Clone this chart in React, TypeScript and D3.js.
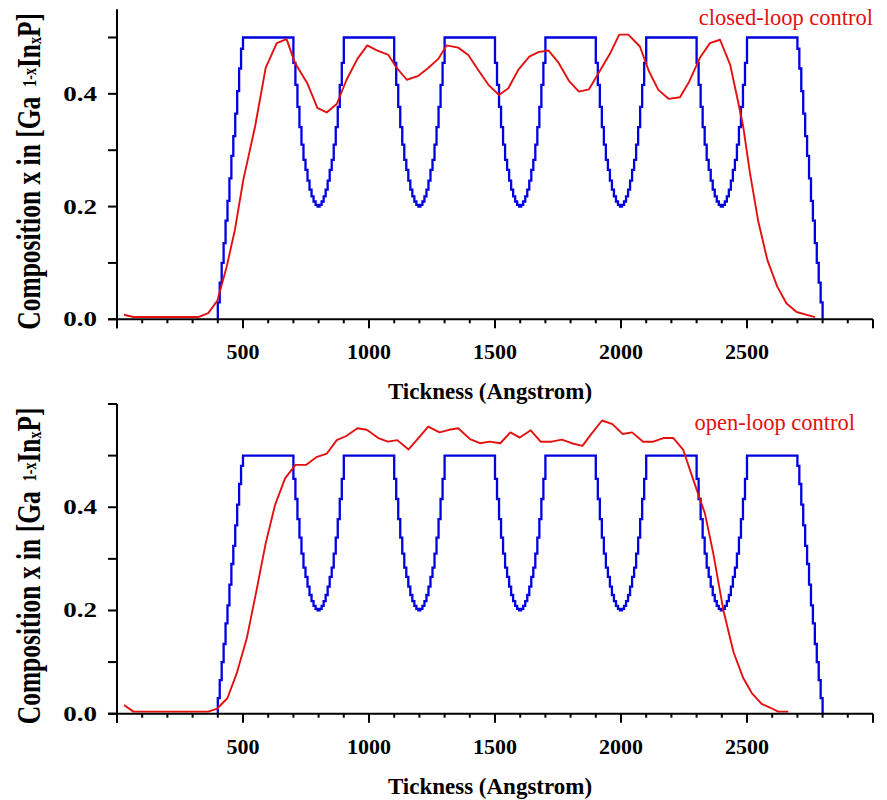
import React from "react";
import * as d3 from "d3";

// ---------- data ----------
const X_TICK_LABELS = [500, 1000, 1500, 2000, 2500];
const Y_TICK_LABELS = [0.0, 0.2, 0.4];

// design (staircase) profile
const RAMP_UP: [number, number] = [400, 500];
const RAMP_DOWN: [number, number] = [2700, 2800];
const RAMP_LEVELS = [0.03, 0.065, 0.1, 0.135, 0.175, 0.21, 0.25, 0.29, 0.325, 0.365, 0.405, 0.445, 0.48];
const PLATEAU_LEVEL = 0.5;
const PLATEAUS: [number, number][] = [
  [500, 700],
  [900, 1100],
  [1300, 1500],
  [1700, 1900],
  [2100, 2300],
  [2500, 2700],
];
const DIP_LEVELS = [0.455, 0.416, 0.377, 0.341, 0.31, 0.283, 0.265, 0.246, 0.23, 0.218, 0.209, 0.203, 0.2];

// measured composition, closed-loop control
const CLOSED_LOOP: [number, number][] = [
  [28, 0.008], [65, 0.004], [323, 0.004], [362, 0.011], [398, 0.033], [435, 0.093], [468, 0.159],
  [501, 0.247], [548, 0.342], [590, 0.446], [634, 0.49], [673, 0.497], [706, 0.455], [755, 0.419],
  [795, 0.375], [832, 0.367], [872, 0.382], [911, 0.425], [954, 0.462], [993, 0.486], [1031, 0.477],
  [1077, 0.469], [1110, 0.446], [1150, 0.425], [1196, 0.432], [1235, 0.446], [1275, 0.462],
  [1308, 0.486], [1354, 0.482], [1394, 0.469], [1434, 0.442], [1474, 0.416], [1516, 0.398],
  [1553, 0.41], [1593, 0.443], [1636, 0.466], [1672, 0.474], [1712, 0.477], [1751, 0.456],
  [1795, 0.422], [1833, 0.404], [1873, 0.408], [1910, 0.436], [1956, 0.471], [1993, 0.505],
  [2029, 0.505], [2075, 0.484], [2111, 0.44], [2148, 0.407], [2190, 0.391], [2234, 0.394],
  [2271, 0.422], [2313, 0.464], [2353, 0.49], [2393, 0.496], [2433, 0.452], [2459, 0.398],
  [2485, 0.342], [2512, 0.259], [2545, 0.173], [2581, 0.105], [2620, 0.058], [2657, 0.028],
  [2697, 0.013], [2737, 0.008], [2770, 0.004],
];

// measured composition, open-loop control
const OPEN_LOOP: [number, number][] = [
  [28, 0.017], [65, 0.004], [362, 0.004], [398, 0.01], [438, 0.03], [475, 0.078], [515, 0.146],
  [554, 0.24], [590, 0.33], [627, 0.404], [667, 0.456], [708, 0.482], [750, 0.482], [791, 0.497],
  [833, 0.504], [872, 0.53], [910, 0.538], [954, 0.553], [991, 0.55], [1037, 0.534], [1075, 0.527],
  [1112, 0.53], [1157, 0.512], [1196, 0.534], [1235, 0.556], [1280, 0.545], [1318, 0.55],
  [1354, 0.553], [1401, 0.532], [1440, 0.524], [1479, 0.527], [1521, 0.524], [1561, 0.545],
  [1598, 0.535], [1642, 0.549], [1681, 0.527], [1725, 0.527], [1765, 0.531], [1804, 0.524],
  [1847, 0.519], [1884, 0.543], [1925, 0.568], [1966, 0.561], [2006, 0.542], [2044, 0.545],
  [2088, 0.527], [2128, 0.527], [2168, 0.534], [2208, 0.534], [2247, 0.511], [2287, 0.453],
  [2333, 0.388], [2366, 0.311], [2406, 0.201], [2446, 0.12], [2485, 0.069], [2519, 0.04],
  [2558, 0.019], [2591, 0.012], [2624, 0.004], [2664, 0.004],
];

// ---------- build staircase from the read levels ----------
function buildDesign(): [number, number][] {
  const pts: [number, number][] = [];
  const n = RAMP_LEVELS.length;
  const w = (RAMP_UP[1] - RAMP_UP[0]) / n;
  pts.push([RAMP_UP[0], 0]);
  RAMP_LEVELS.forEach((v, i) => pts.push([RAMP_UP[0] + i * w, v]));
  PLATEAUS.forEach(([a, b], k) => {
    pts.push([a, PLATEAU_LEVEL]);
    if (k < PLATEAUS.length - 1) {
      const next = PLATEAUS[k + 1][0];
      const center = (b + next) / 2;
      const m = DIP_LEVELS.length;
      const sw = (center - b) / (m - 0.5);
      DIP_LEVELS.forEach((v, i) => pts.push([b + i * sw, v]));
      for (let j = 0; j <= m - 2; j++) {
        pts.push([center + sw / 2 + j * sw, DIP_LEVELS[m - 2 - j]]);
      }
    }
  });
  const wd = (RAMP_DOWN[1] - RAMP_DOWN[0]) / n;
  for (let j = 0; j < n; j++) pts.push([RAMP_DOWN[0] + j * wd, RAMP_LEVELS[n - 1 - j]]);
  pts.push([RAMP_DOWN[1], 0]);
  return pts;
}
const DESIGN = buildDesign();

// ---------- layout ----------
const W = 887;
const H = 800;
const X0 = 117;
const X1 = 873;
const FONT = "'Liberation Serif', 'Times New Roman', serif";
const BLUE = "#0000e0";
const RED = "#e41010";
const AXIS_W = 2;

type PanelProps = {
  top: number;
  bottom: number;
  yMax: number;
  yTickMax: number;
  measured: [number, number][];
  label: string;
  labelX: number;
  labelY: number;
};

function Panel({ top, bottom, yMax, yTickMax, measured, label, labelX, labelY }: PanelProps) {
  const x = d3.scaleLinear().domain([0, 3000]).range([X0, X1]);
  const y = d3.scaleLinear().domain([0, yMax]).range([bottom, top]);
  const minor = d3.range(0, 3001, 100);
  const yTicks = d3.range(0, yTickMax + 1e-9, 0.1);
  const designLine = d3
    .line<[number, number]>()
    .x((d) => x(d[0]))
    .y((d) => y(d[1]))
    .curve(d3.curveStepAfter);
  const measLine = d3
    .line<[number, number]>()
    .x((d) => x(d[0]))
    .y((d) => y(d[1]));
  const fmt = d3.format(".1f");
  const cy = (top + bottom) / 2;

  return (
    <g>
      <path d={designLine(DESIGN) || ""} fill="none" stroke={BLUE} strokeWidth={2.3} />
      <path d={measLine(measured) || ""} fill="none" stroke={RED} strokeWidth={1.9} strokeLinejoin="round" />

      <line x1={X0 - 9} x2={X1} y1={bottom} y2={bottom} stroke="#000" strokeWidth={AXIS_W} />
      <line x1={X0} x2={X0} y1={top} y2={bottom + 9} stroke="#000" strokeWidth={AXIS_W} />
      {minor.map((t) => {
        const major = t % 500 === 0;
        return (
          <line key={"xt" + t} x1={x(t)} x2={x(t)} y1={bottom} y2={bottom + (major ? 9 : 4)} stroke="#000" strokeWidth={AXIS_W} />
        );
      })}
      {yTicks.map((t) => (
        <line key={"yt" + t} x1={X0 - 9} x2={X0} y1={y(t)} y2={y(t)} stroke="#000" strokeWidth={AXIS_W} />
      ))}
      {X_TICK_LABELS.map((t) => (
        <text key={"xl" + t} x={x(t)} y={bottom + 40} textAnchor="middle" fontFamily={FONT} fontWeight="bold" fontSize={22}>
          {t}
        </text>
      ))}
      {Y_TICK_LABELS.map((t) => (
        <text
          key={"yl" + t}
          transform={`translate(97,${y(t) + 7}) scale(1.35,1)`}
          textAnchor="end"
          fontFamily={FONT}
          fontWeight="bold"
          fontSize={20}
        >
          {fmt(t)}
        </text>
      ))}
      <text x={(X0 + X1) / 2 - 5} y={bottom + 80} textAnchor="middle" fontFamily={FONT} fontWeight="bold" fontSize={23}>
        Tickness (Angstrom)
      </text>
      <text
        transform={`translate(40,${cy + 7}) scale(1.35,1) rotate(-90)`}
        textAnchor="middle"
        fontFamily={FONT}
        fontWeight="bold"
        fontSize={25.5}
      >
        Composition x in [Ga
        <tspan dx={10} dy={-3} fontSize={14}>1-x</tspan>
        <tspan dy={3}>In</tspan>
        <tspan fontSize={14} dy={1}>x</tspan>
        <tspan dy={-1}>P]</tspan>
      </text>
      <text x={labelX} y={labelY} textAnchor="end" fontFamily={FONT} fontSize={22.5} fill={RED}>
        {label}
      </text>
    </g>
  );
}

export default function App() {
  return (
    <svg
      width={W}
      height={H}
      viewBox={`0 0 ${W} ${H}`}
      style={{ position: "absolute", left: 0, top: 0, background: "#fff" }}
    >
      <rect width={W} height={H} fill="#fff" />
      <Panel top={9.3} bottom={319.3} yMax={0.55} yTickMax={0.5} measured={CLOSED_LOOP} label="closed-loop control" labelX={873} labelY={25} />
      <Panel top={404} bottom={713.7} yMax={0.6} yTickMax={0.6} measured={OPEN_LOOP} label="open-loop control" labelX={855} labelY={430} />
    </svg>
  );
}
